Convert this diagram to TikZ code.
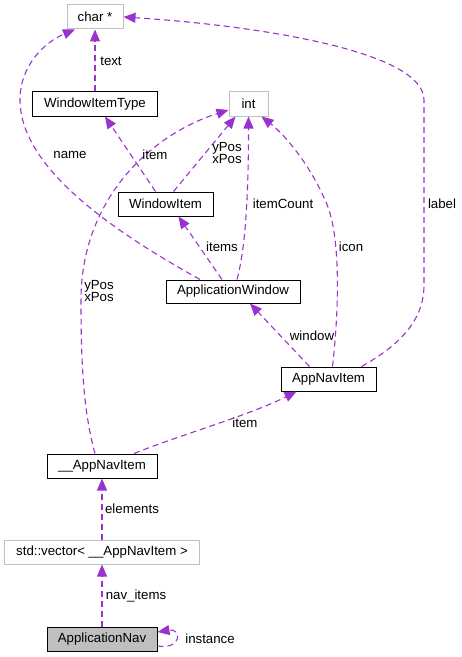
\documentclass[tikz,border=0pt]{standalone}
\usepackage{fontspec}
\setmainfont{Liberation Sans}
\usetikzlibrary{arrows.meta}
\definecolor{edgec}{HTML}{9A32CD}
\definecolor{greyb}{HTML}{BFBFBF}
\begin{document}
\begin{tikzpicture}[x=1bp,y=-1bp,
  font=\fontsize{13.3}{13}\selectfont,
  cls/.style={draw=black, line width=1bp, fill=white, inner sep=0pt, minimum height=24bp},
  ext/.style={draw=greyb, line width=1bp, fill=white, inner sep=0pt, minimum height=24bp},
  cur/.style={draw=black, line width=1bp, fill=greyb, inner sep=0pt, minimum height=24bp},
  rel/.style={draw=edgec, line width=1.1bp, dash pattern=on 6bp off 4bp, -{Triangle[length=12bp,width=10bp]}},
  lbl/.style={inner sep=0pt, align=center}]
\useasboundingbox (0,0) rectangle (462,657);
% nodes
\node[ext, minimum width=56bp] (charp) at (95,17) {char *};
\node[ext, minimum width=39bp] (int) at (248.5,104) {int};
\node[cls, minimum width=124bp] (wit) at (95,104) {WindowItemType};
\node[cls, minimum width=95bp] (wi) at (165.5,204) {WindowItem};
\node[cls, minimum width=134bp, minimum height=23bp] (aw) at (233,291.5) {ApplicationWindow};
\node[cls, minimum width=95bp] (ani) at (328.5,379) {AppNavItem};
\node[cls, minimum width=110bp] (uani) at (102,466) {\_\_AppNavItem};
\node[ext, minimum width=194bp] (vec) at (102,552) {std::vector< \_\_AppNavItem >};
\node[cur, minimum width=110bp] (nav) at (102,639) {ApplicationNav};
% edges
\draw[rel] (wit.north) -- (charp.south);
\draw[rel] ([xshift=-33bp]aw.north) .. controls (120,235) and (20,170) .. (20,100)
  .. controls (20,65) and (45,42) .. ([xshift=-20bp]charp.south);
\draw[rel] ([xshift=-10bp]wi.north) -- ([xshift=10bp]wit.south);
\draw[rel] ([xshift=8bp]wi.north) -- ([xshift=-13bp]int.south);
\draw[rel] ([xshift=-7bp]uani.north) .. controls (83,410) and (81,360) .. (81,300)
  .. controls (81,200) and (150,135) .. ([yshift=-6bp]int.west);
\draw[rel] ([xshift=-11bp]aw.north) -- ([xshift=13bp]wi.south);
\draw[rel] ([xshift=4bp]aw.north) .. controls (245,250) and (248.5,200) .. (int.south);
\draw[rel] ([xshift=4bp]ani.north) .. controls (340,300) and (340,230) .. (325,200)
  .. controls (310,165) and (285,135) .. ([xshift=13bp]int.south);
\draw[rel] ([xshift=33bp]ani.north) .. controls (400,345) and (424,320) .. (424,285)
  -- (424,100) .. controls (424,50) and (250,25) .. (charp.east);
\draw[rel] ([xshift=-19bp]ani.north) -- ([xshift=17bp]aw.south);
\draw[rel] ([xshift=32bp]uani.north) .. controls (180,435) and (250,415) .. ([xshift=-32bp]ani.south);
\draw[rel] (vec.north) -- (uani.south);
\draw[rel] (nav.north) -- (vec.south);
\draw[rel] ([yshift=-7bp]nav.east) .. controls (182,650) and (182,628) .. ([yshift=7bp]nav.east);
% labels
\node[lbl] (ltext) at (111,61) {text};
\node[lbl] (lname) at (70,155) {name};
\node[lbl] (litem1) at (155,155) {item};
\node[lbl] (lpos1) at (227,153) {yPos\\xPos};
\node[lbl] (lpos2) at (99,291) {yPos\\xPos};
\node[lbl] (litems) at (222,247) {items};
\node[lbl] (lcount) at (283,204) {itemCount};
\node[lbl] (licon) at (351,247) {icon};
\node[lbl] (llabel) at (442,204) {label};
\node[lbl] (lwin) at (312,336) {window};
\node[lbl] (litem2) at (245,423) {item};
\node[lbl] (lelem) at (132,509) {elements};
\node[lbl] (lnav) at (136,596) {nav\_items};
\node[lbl] (linst) at (210,639) {instance};
\end{tikzpicture}
\end{document}
